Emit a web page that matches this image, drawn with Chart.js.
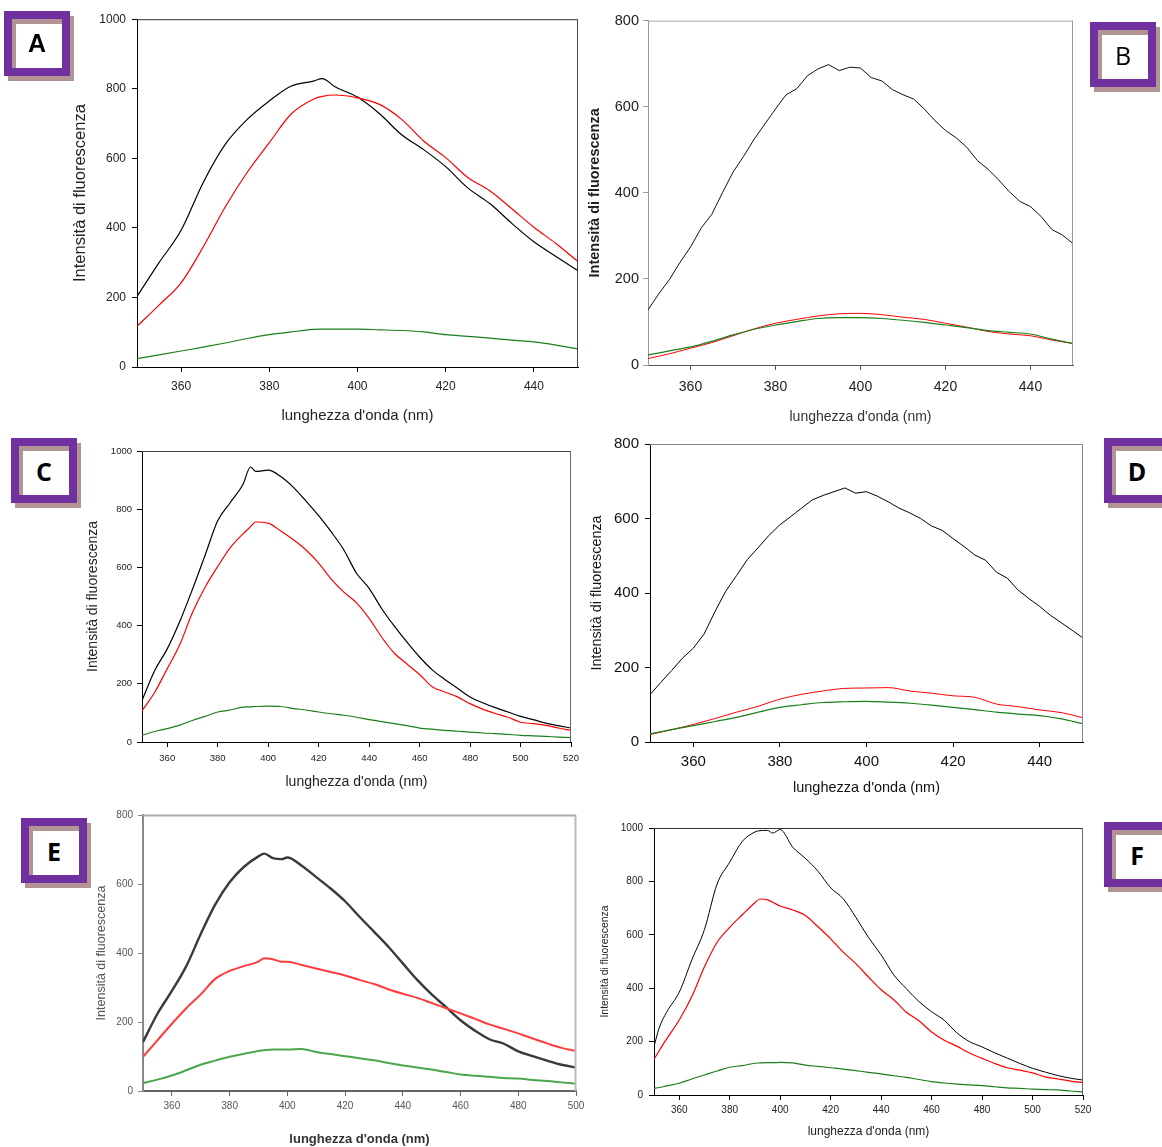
<!DOCTYPE html>
<html>
<head>
<meta charset="utf-8">
<script src="https://cdn.jsdelivr.net/npm/chart.js@4.4.1/dist/chart.umd.min.js"></script>
<style>
    html, body { margin: 0; padding: 0; background: #fff; }
    body { position: relative; width: 1162px; height: 1147px; overflow: hidden; }
    canvas { position: absolute; }
    .tag, .tag-shadow { position: absolute; width: 66px; height: 65px; box-sizing: border-box; }
    .tag-shadow { border: 8px solid #b39494; }
    .tag {
        border: 8px solid #7030a0;
        display: flex; align-items: center; justify-content: center;
        font-family: 'Open Sans', sans-serif; font-weight: 700; font-size: 25px; color: #000;
    }
</style>
</head>
<body>

<canvas id="chartA"></canvas>
<canvas id="chartB"></canvas>
<canvas id="chartC"></canvas>
<canvas id="chartD"></canvas>
<canvas id="chartE"></canvas>
<canvas id="chartF"></canvas>

<!-- panel letters -->
<div class="tag-shadow" style="left:8px;top:16px"></div>
<div class="tag" style="left:4px;top:11px;font-family:'Liberation Sans',Arial,sans-serif">A</div>
<div class="tag-shadow" style="left:1094px;top:27px"></div>
<div class="tag" style="left:1090px;top:22px;font-weight:400">B</div>
<div class="tag-shadow" style="left:15px;top:443px"></div>
<div class="tag" style="left:11px;top:438px">C</div>
<div class="tag-shadow" style="left:1108px;top:443px"></div>
<div class="tag" style="left:1104px;top:438px">D</div>
<div class="tag-shadow" style="left:25px;top:823px"></div>
<div class="tag" style="left:21px;top:818px">E</div>
<div class="tag-shadow" style="left:1108px;top:827px"></div>
<div class="tag" style="left:1104px;top:822px">F</div>

<script>
// -------------------------------------------------------------
// DATA
// -------------------------------------------------------------

const yTitle = 'Intensità di fluorescenza';
const xTitle = "lunghezza d'onda (nm)";

const ticks1000 = [0, 200, 400, 600, 800, 1000];
const ticks800 = [0, 200, 400, 600, 800];
const ticksX450 = [360, 380, 400, 420, 440];
const ticksX500 = [360, 380, 400, 420, 440, 460, 480, 500];
const ticksX520 = [360, 380, 400, 420, 440, 460, 480, 500, 520];

// A
const wlA = [350, 355, 360, 365, 370, 375, 380, 385, 390, 392, 395, 400, 405, 410, 415, 420, 425, 430, 435, 440, 445, 450];
const blackA = [203, 300, 393, 530, 640, 712, 765, 808, 822, 829, 805, 776, 728, 668, 625, 576, 515, 470, 413, 360, 318, 277];
const redA = [117, 178, 242, 345, 460, 560, 645, 728, 770, 778, 782, 774, 755, 712, 650, 602, 545, 507, 455, 402, 355, 303];
const greenA = [24, 35, 46, 57, 69, 82, 93, 101, 108, 109, 109, 109, 107, 105, 101, 93, 88, 83, 77, 72, 63, 52];

// B
const wlB = [350, 355, 360, 365, 370, 375, 380, 385, 390, 395, 400, 405, 410, 415, 420, 425, 430, 435, 440, 445, 450];
const wlBfine = [350, 352.5, 355, 357.5, 360, 362.5, 365, 367.5, 370, 372.5, 375, 377.5, 380, 382.5, 385, 387.5, 390, 392.5, 395, 397.5,
    400, 402.5, 405, 407.5, 410, 412.5, 415, 417.5, 420, 422.5, 425, 427.5, 430, 432.5, 435, 437.5, 440, 442.5, 445, 447.5, 450];
const blackB = [128, 165, 198, 238, 274, 318, 350, 400, 448, 485, 525, 560, 595, 628, 642, 672, 688, 698, 684, 692,
    690, 668, 660, 640, 628, 618, 595, 568, 545, 528, 506, 475, 455, 430, 403, 380, 368, 345, 315, 302, 282];
const redB = [15, 26, 39, 52, 68, 84, 97, 106, 114, 119, 120, 117, 111, 106, 97, 88, 78, 72, 68, 58, 50];
const greenB = [23, 33, 42, 55, 70, 83, 93, 101, 108, 110, 110, 108, 104, 99, 93, 87, 80, 76, 72, 60, 50];

// C
const wlC = [350, 355, 360, 365, 370, 375, 380, 385, 390, 393, 395, 400, 405, 410, 415, 420, 425, 430, 435, 440, 445, 450,
    455, 460, 465, 470, 475, 480, 485, 490, 495, 500, 505, 510, 515, 520];
const blackC = [143, 245, 320, 415, 525, 642, 760, 823, 885, 945, 930, 934, 912, 875, 828, 778, 722, 660, 580, 528, 458, 398,
    343, 292, 248, 215, 185, 155, 135, 118, 103, 88, 77, 65, 56, 48];
const redC = [107, 170, 252, 335, 445, 532, 603, 668, 715, 740, 756, 752, 725, 695, 660, 615, 560, 515, 478, 425, 360, 305,
    268, 232, 190, 172, 155, 132, 113, 98, 85, 68, 63, 57, 48, 40];
const greenC = [23, 36, 46, 58, 74, 88, 103, 110, 120, 121, 122, 123, 122, 115, 110, 103, 97, 92, 85, 77, 70, 63,
    56, 48, 44, 40, 37, 34, 31, 29, 26, 23, 21, 19, 17, 15];

// D
const wlD = [350, 355, 360, 365, 370, 375, 380, 385, 390, 395, 400, 405, 410, 415, 420, 425, 430, 435, 440, 445, 450];
const wlDfine = wlBfine;
const blackD = [127, 160, 192, 225, 252, 290, 350, 405, 447, 490, 522, 555, 583, 605, 628, 650, 662, 672, 682, 668,
    672, 660, 645, 628, 615, 600, 580, 568, 546, 525, 502, 488, 456, 440, 408, 385, 364, 340, 320, 300, 279];
const redD = [20, 33, 47, 63, 80, 96, 115, 128, 137, 144, 145, 146, 137, 131, 124, 120, 102, 95, 86, 79, 65];
const greenD = [22, 33, 44, 55, 66, 80, 93, 100, 106, 108, 109, 107, 104, 99, 93, 87, 80, 75, 71, 62, 49];

// E
const wlE = [350, 355, 360, 365, 370, 375, 380, 385, 390, 392, 395, 398, 400, 405, 410, 415, 420, 425, 430, 435, 440, 445,
    450, 455, 460, 465, 470, 475, 480, 485, 490, 495, 500];
const blackE = [142, 224, 290, 362, 455, 540, 605, 650, 680, 688, 675, 672, 677, 653, 620, 587, 550, 505, 462, 418, 370, 322,
    280, 243, 205, 175, 150, 137, 115, 101, 88, 76, 68];
const redE = [99, 147, 195, 240, 280, 325, 348, 362, 375, 385, 382, 375, 375, 365, 355, 345, 335, 322, 310, 295, 282, 270,
    255, 240, 225, 209, 193, 180, 167, 152, 138, 125, 116];
const greenE = [23, 33, 45, 60, 76, 88, 99, 108, 116, 118, 120, 120, 120, 122, 113, 107, 101, 95, 89, 81, 74, 68,
    62, 55, 48, 44, 41, 38, 36, 32, 29, 25, 21];

// F
const wlF = [350, 352, 355, 360, 365, 370, 375, 380, 385, 390, 392, 395, 397, 400, 405, 410, 415, 420, 425, 430, 435, 440,
    445, 450, 455, 460, 465, 470, 475, 480, 485, 490, 495, 500, 505, 510, 515, 520];
const blackF = [181, 250, 310, 385, 506, 620, 790, 872, 950, 985, 990, 991, 981, 994, 928, 886, 838, 776, 735, 665, 590, 525,
    450, 398, 350, 312, 280, 233, 200, 180, 158, 138, 118, 100, 86, 73, 63, 56];
const redF = [134, 165, 210, 281, 369, 480, 572, 628, 675, 720, 734, 731, 722, 708, 693, 672, 630, 585, 535, 492, 442, 394,
    357, 310, 278, 236, 205, 183, 157, 137, 118, 102, 93, 83, 68, 60, 52, 46];
const greenF = [25, 28, 34, 44, 60, 75, 90, 104, 110, 119, 120, 121, 121, 122, 120, 112, 107, 102, 97, 91, 85, 79,
    72, 66, 58, 50, 45, 41, 38, 35, 31, 27, 25, 22, 20, 19, 15, 12];

// -------------------------------------------------------------
// CHART HELPERS
// -------------------------------------------------------------

const ARIAL = "'Liberation Sans', Arial, sans-serif";

function series(wl, vals, color, width, smooth) {
    return {
        data: wl.map((x, i) => ({ x: x, y: vals[i] })),
        borderColor: color,
        borderWidth: width,
        pointRadius: 0,
        fill: false,
        cubicInterpolationMode: smooth ? 'monotone' : 'default',
        tension: 0
    };
}

// top and right sides of the plot box
const framePlugin = {
    id: 'frame',
    afterDatasetsDraw(chart, args, opts) {
        const { ctx, chartArea: { left, top, right, bottom } } = chart;
        ctx.save();
        ctx.lineWidth = opts.width;
        ctx.strokeStyle = opts.top;
        ctx.beginPath();
        ctx.moveTo(left, top + 0.5);
        ctx.lineTo(right, top + 0.5);
        ctx.stroke();
        ctx.strokeStyle = opts.right;
        ctx.beginPath();
        ctx.moveTo(right - 0.5, top);
        ctx.lineTo(right - 0.5, bottom);
        ctx.stroke();
        ctx.restore();
    }
};

function makePanel(id, p) {
    const canvas = document.getElementById(id);
    const tick = 5;
    const cLeft = Math.round(p.yTitle.x - p.yTitle.size * 0.6);
    const cTop = p.area.top - 12;
    const cRight = p.area.right + 16;
    const cBottom = Math.round(p.xTitle.y + p.xTitle.size * 0.6);
    const yW = p.area.left - cLeft;
    const xH = cBottom - p.area.bottom;

    canvas.width = cRight - cLeft;
    canvas.height = cBottom - cTop;
    canvas.style.left = cLeft + 'px';
    canvas.style.top = cTop + 'px';
    if (p.blur) canvas.style.filter = 'blur(' + p.blur + 'px)';

    new Chart(canvas.getContext('2d'), {
        type: 'line',
        data: { datasets: p.datasets },
        options: {
            responsive: false,
            animation: false,
            events: [],
            layout: { padding: { top: 12, right: 16, left: 0, bottom: 0 } },
            plugins: {
                legend: { display: false },
                tooltip: { enabled: false },
                frame: p.frame
            },
            scales: {
                x: {
                    type: 'linear',
                    min: p.xMin,
                    max: p.xMax,
                    afterBuildTicks: s => { s.ticks = p.xTicks.map(v => ({ value: v })); },
                    afterFit: s => { s.height = xH; },
                    ticks: {
                        autoSkip: false,
                        maxRotation: 0,
                        color: p.tickColor,
                        font: p.xTickFont,
                        padding: p.xTickY - p.area.bottom - tick - p.xTickFont.size * 0.6,
                        callback: v => String(v)
                    },
                    grid: { drawOnChartArea: false, tickLength: tick, color: p.axis.bottom },
                    border: { color: p.axis.bottom, width: p.axis.width },
                    title: {
                        display: true, text: xTitle, padding: 0,
                        color: p.xTitle.color, font: p.xTitle.font
                    }
                },
                y: {
                    min: 0,
                    max: p.yMax,
                    afterBuildTicks: s => { s.ticks = p.yTicks.map(v => ({ value: v })); },
                    afterFit: s => { s.width = yW; },
                    ticks: {
                        color: p.tickColor,
                        font: p.yTickFont,
                        padding: p.area.left - tick - p.yTickRight,
                        callback: v => String(v)
                    },
                    grid: { drawOnChartArea: false, tickLength: tick, color: p.axis.left },
                    border: { color: p.axis.left, width: p.axis.width },
                    title: {
                        display: true, text: yTitle, padding: 0,
                        color: p.yTitle.color, font: p.yTitle.font
                    }
                }
            }
        },
        plugins: [framePlugin]
    });
}

// -------------------------------------------------------------
// PANELS
// -------------------------------------------------------------

makePanel('chartA', {
    area: { left: 137, top: 18, right: 578, bottom: 367 },
    xMin: 350, xMax: 450, xTicks: ticksX450, yMax: 1000, yTicks: ticks1000,
    tickColor: '#222',
    xTickFont: { family: ARIAL, size: 12 }, xTickY: 387,
    yTickFont: { family: ARIAL, size: 12 }, yTickRight: 126,
    xTitle: { y: 416, size: 15, color: '#222', font: { family: ARIAL, size: 15 } },
    yTitle: { x: 81, size: 16.5, color: '#222', font: { family: ARIAL, size: 16.5 } },
    axis: { left: '#000', bottom: '#000', width: 1 },
    frame: { top: '#333', right: '#444', width: 1 },
    datasets: [
        series(wlA, greenA, '#1a7f1a', 1.2, true),
        series(wlA, redA, '#ff0000', 1.2, true),
        series(wlA, blackA, '#000000', 1.2, true)
    ]
});

makePanel('chartB', {
    area: { left: 648, top: 20, right: 1073, bottom: 365 },
    xMin: 350, xMax: 450, xTicks: ticksX450, yMax: 800, yTicks: ticks800,
    tickColor: '#222',
    xTickFont: { family: ARIAL, size: 14 }, xTickY: 387,
    yTickFont: { family: ARIAL, size: 14.5 }, yTickRight: 639,
    xTitle: { y: 418, size: 14, color: '#333', font: { family: ARIAL, size: 14 } },
    yTitle: { x: 595, size: 14.5, color: '#222', font: { family: ARIAL, size: 14.5, weight: 'bold' } },
    axis: { left: '#999', bottom: '#555', width: 1 },
    frame: { top: '#aaa', right: '#999', width: 1 },
    datasets: [
        series(wlB, greenB, '#1a7f1a', 1.2, true),
        series(wlB, redB, '#ff0000', 1, true),
        series(wlBfine, blackB, '#111111', 1, false)
    ]
});

makePanel('chartC', {
    area: { left: 142, top: 451, right: 571, bottom: 742 },
    xMin: 350, xMax: 520, xTicks: ticksX520, yMax: 1000, yTicks: ticks1000,
    tickColor: '#222',
    xTickFont: { family: ARIAL, size: 9.5 }, xTickY: 758,
    yTickFont: { family: ARIAL, size: 9.5 }, yTickRight: 132,
    xTitle: { y: 783, size: 14, color: '#222', font: { family: ARIAL, size: 14 } },
    yTitle: { x: 93, size: 14, color: '#222', font: { family: ARIAL, size: 14 } },
    axis: { left: '#000', bottom: '#000', width: 1 },
    frame: { top: '#444', right: '#666', width: 1 },
    datasets: [
        series(wlC, greenC, '#1a7f1a', 1.2, true),
        series(wlC, redC, '#ff0000', 1.2, true),
        series(wlC, blackC, '#000000', 1.2, true)
    ]
});

makePanel('chartD', {
    area: { left: 650, top: 441, right: 1083, bottom: 742 },
    xMin: 350, xMax: 450, xTicks: ticksX450, yMax: 800, yTicks: ticks800,
    tickColor: '#111',
    xTickFont: { family: ARIAL, size: 15 }, xTickY: 762,
    yTickFont: { family: ARIAL, size: 15 }, yTickRight: 639,
    xTitle: { y: 788, size: 14.5, color: '#111', font: { family: ARIAL, size: 14.5 } },
    yTitle: { x: 597, size: 14.4, color: '#111', font: { family: ARIAL, size: 14.4 } },
    axis: { left: '#000', bottom: '#000', width: 1 },
    frame: { top: '#888', right: '#888', width: 1 },
    datasets: [
        series(wlD, greenD, '#1a7f1a', 1.2, true),
        series(wlD, redD, '#ff0000', 1, true),
        series(wlDfine, blackD, '#000000', 1, false)
    ]
});

makePanel('chartE', {
    area: { left: 143, top: 815, right: 576, bottom: 1091 },
    xMin: 350, xMax: 500, xTicks: ticksX500, yMax: 800, yTicks: ticks800,
    tickColor: '#555',
    xTickFont: { family: ARIAL, size: 10 }, xTickY: 1106,
    yTickFont: { family: ARIAL, size: 10 }, yTickRight: 133,
    xTitle: { y: 1139, size: 13, color: '#333', font: { family: ARIAL, size: 13, weight: 'bold' } },
    yTitle: { x: 101, size: 12.5, color: '#555', font: { family: ARIAL, size: 12.5 } },
    axis: { left: '#888', bottom: '#666', width: 2 },
    frame: { top: '#aaa', right: '#bbb', width: 2 },
    blur: 0.6,
    datasets: [
        series(wlE, greenE, '#4aa84a', 2, true),
        series(wlE, redE, '#ff3b3b', 2, true),
        series(wlE, blackE, '#3a3a3a', 2.4, true)
    ]
});

makePanel('chartF', {
    area: { left: 654, top: 828, right: 1083, bottom: 1095 },
    xMin: 350, xMax: 520, xTicks: ticksX520, yMax: 1000, yTicks: ticks1000,
    tickColor: '#222',
    xTickFont: { family: ARIAL, size: 10 }, xTickY: 1110,
    yTickFont: { family: ARIAL, size: 10 }, yTickRight: 643,
    xTitle: { y: 1132, size: 12, color: '#222', font: { family: ARIAL, size: 12 } },
    yTitle: { x: 605, size: 10.4, color: '#222', font: { family: ARIAL, size: 10.4 } },
    axis: { left: '#000', bottom: '#000', width: 1 },
    frame: { top: '#333', right: '#666', width: 1 },
    datasets: [
        series(wlF, greenF, '#1a7f1a', 1.2, true),
        series(wlF, redF, '#ff0000', 1.2, true),
        series(wlF, blackF, '#000000', 1, true)
    ]
});
</script>
</body>
</html>
